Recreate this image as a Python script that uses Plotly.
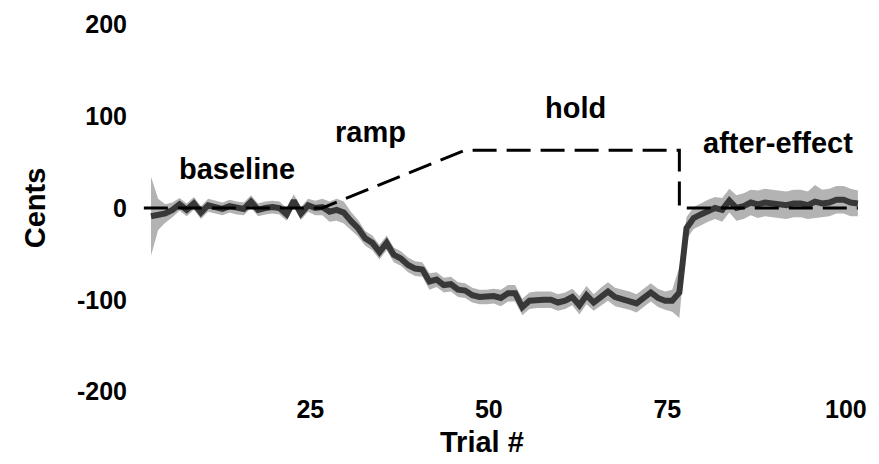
import plotly.graph_objects as go

trials = list(range(1, 101))
mean_cents = [
    -9, -7, -6, -2, 4, -2, 5, -5, 3, 1,
    -1, 2, 0, -1, 7, -2, 0, 1, 0, -7,
    8, -6, 3, 0, 1, -4, -2, -5, -14, -22,
    -33, -38, -48, -38, -51, -55, -62, -66, -67, -80,
    -78, -84, -83, -89, -90, -95, -97, -97, -96, -98,
    -93, -93, -108, -101, -100, -100, -100, -103, -101, -97,
    -106, -95, -103, -97, -91, -97, -99, -101, -104, -98,
    -92, -98, -101, -101, -92, -22, -11, -7, -3, 0,
    -2, 8, 0, 2, 6, 4, 6, 5, 4, 3,
    5, 5, 3, 7, 5, 6, 9, 9, 6, 5,
]
err_cents = [
    43, 17, 10, 8, 7, 7, 7, 7, 7, 7,
    7, 7, 7, 7, 7, 7, 7, 7, 7, 7,
    7, 7, 7, 8, 9, 11, 12, 12, 10, 9,
    8, 8, 8, 8, 8, 8, 8, 8, 8, 9,
    8, 8, 8, 8, 8, 8, 8, 8, 8, 9,
    9, 9, 9, 9, 9, 9, 9, 9, 9, 9,
    10, 10, 9, 10, 10, 10, 10, 10, 10, 10,
    10, 10, 10, 12, 28, 12, 12, 12, 12, 12,
    13, 13, 14, 14, 14, 15, 15, 15, 15, 15,
    15, 15, 15, 18, 15, 15, 15, 15, 15, 14,
]
pert_x = [0, 25, 45, 75, 75, 100]
pert_y = [0, 0, 63, 63, 0, 0]

phase_labels = ["baseline", "ramp", "hold", "after-effect"]
phase_x = [13.0, 31.7, 60.4, 88.8]
phase_y = [42, 83, 109, 71]

y_ticks = [-200, -100, 0, 100, 200]
y_ticktext = ["-200", "-100", "0", "100", "200"]
x_ticks = [25, 50, 75, 100]

upper = [m + e for m, e in zip(mean_cents, err_cents)]
lower = [m - e for m, e in zip(mean_cents, err_cents)]

FONT = "Liberation Sans, Arial"

fig = go.Figure()
fig.add_trace(go.Scatter(
    x=trials + trials[::-1], y=upper + lower[::-1],
    fill="toself", fillcolor="#b3b3b3", line=dict(width=0),
    mode="lines", hoverinfo="skip", showlegend=False))
fig.add_trace(go.Scatter(
    x=trials, y=mean_cents, mode="lines",
    line=dict(color="#383838", width=6), showlegend=False))
fig.add_trace(go.Scatter(
    x=pert_x, y=pert_y, mode="lines",
    line=dict(color="black", width=3, dash="24px,10px"), showlegend=False))

for t, xx, yy in zip(phase_labels, phase_x, phase_y):
    fig.add_annotation(x=xx, y=yy, text=t, showarrow=False,
                       font=dict(size=29, color="black", family=FONT, weight="bold"))

# x-axis title
fig.add_annotation(xref="paper", yref="paper", x=0.468, y=-0.136,
                   xanchor="center", yanchor="middle", text="Trial #", showarrow=False,
                   font=dict(size=29, color="black", family=FONT, weight="bold"))

fig.update_layout(
    width=879, height=464,
    margin=dict(l=132, r=17, t=16, b=80),
    plot_bgcolor="white", paper_bgcolor="white",
    font=dict(family=FONT, size=25, color="black", weight="bold"),
    xaxis=dict(range=[-0.54, 101.7], tickvals=x_ticks, showgrid=False, zeroline=False,
               showline=False, ticks="", automargin=False,
               tickfont=dict(size=25), ticklabelshift=-12),
    yaxis=dict(range=[-200.5, 200.5], tickvals=y_ticks, ticktext=y_ticktext,
               showgrid=False, zeroline=False, automargin=False,
               showline=False, ticks="", tickfont=dict(size=25),
               title=dict(text="Cents", standoff=22, font=dict(size=29)),
               ticklabelstandoff=12),
)
fig.write_html("out.html")
